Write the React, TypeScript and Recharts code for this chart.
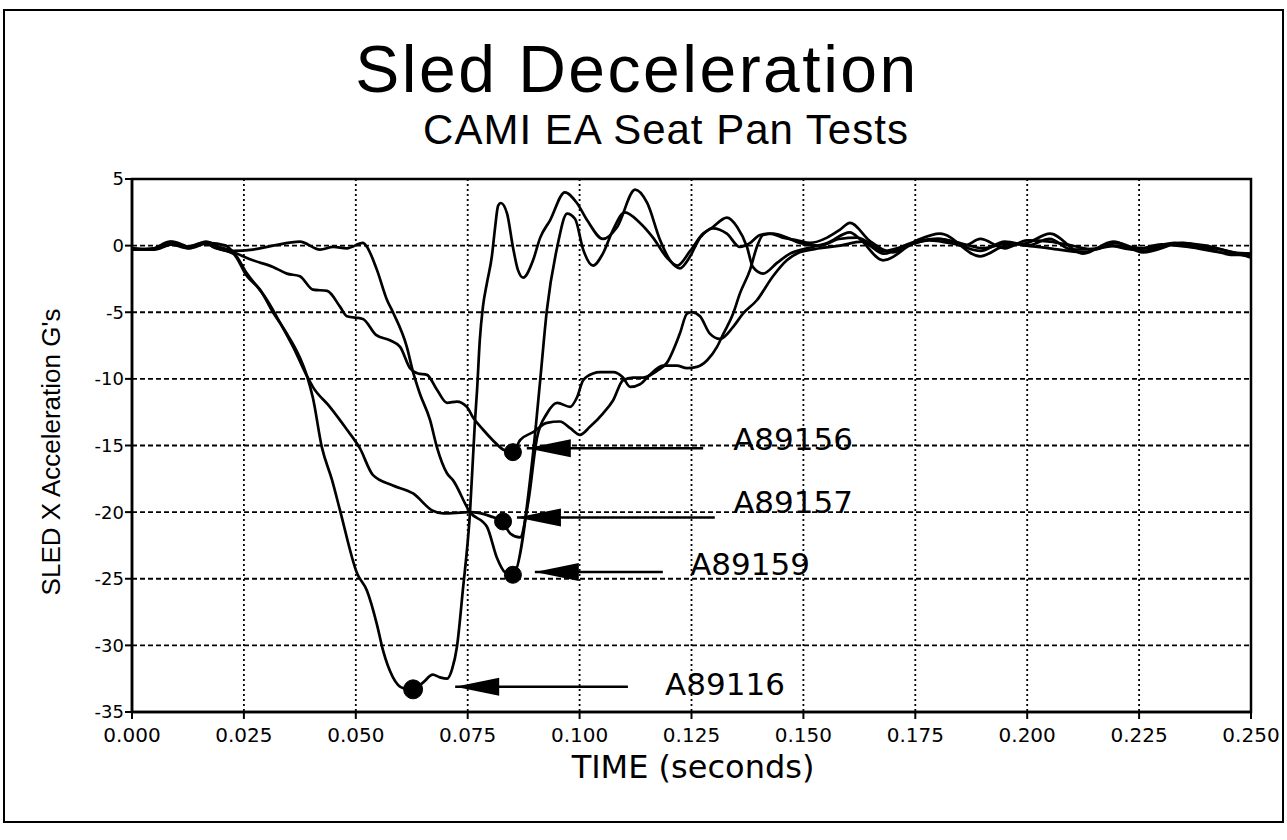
import React from 'react';
import {
  LineChart,
  Line,
  XAxis,
  YAxis,
  CartesianGrid,
  ReferenceArea,
  ReferenceDot,
  ReferenceLine,
} from 'recharts';

type P = [number, number];

// time (s), sled X acceleration (G)
const A89116: P[] = [
  [0, -0.2], [0.004, -0.3], [0.0085, 0.3], [0.012, -0.1], [0.0159, 0.2], [0.019, -0.2],
  [0.0226, -0.6], [0.0257, -2.3], [0.0286, -3.3], [0.0315, -5.0], [0.0346, -6.6], [0.0375, -8.4],
  [0.0391, -9.8], [0.0404, -11.4], [0.0424, -15.1], [0.0447, -17.6], [0.0465, -19.9], [0.0503, -24.6],
  [0.0525, -25.9], [0.0547, -28.4], [0.0561, -30.4], [0.0583, -32.4], [0.0605, -33.2], [0.0628, -33.3],
  [0.065, -32.8], [0.0672, -32.2], [0.0688, -32.4], [0.0704, -32.5], [0.0715, -31.8], [0.0726, -30.1],
  [0.0739, -25.9], [0.0755, -20.1], [0.0766, -13.3], [0.0771, -10.8], [0.0777, -7.1], [0.0784, -4.6],
  [0.0793, -2.8], [0.0804, -0.8], [0.0811, 1.3], [0.0818, 3.0], [0.0824, 3.2], [0.0838, 2.4],
  [0.0851, -0.1], [0.0862, -1.8], [0.0874, -2.4], [0.0896, -1.1], [0.0912, 0.6], [0.0934, 1.9],
  [0.0967, 4.0], [0.0994, 3.2], [0.1017, 1.9], [0.1052, 0.5], [0.1084, 1.4], [0.1124, 4.2],
  [0.1151, 3.2], [0.118, 0.4], [0.1202, -1.1], [0.1224, -1.7], [0.1247, -0.8], [0.1269, 0.6],
  [0.1298, 1.4], [0.1329, 2.1], [0.1352, 1.4], [0.1374, -0.1], [0.1387, -1.6], [0.141, -2.1],
  [0.1441, -1.3], [0.147, -0.6], [0.1508, -0.2], [0.1553, 0.2], [0.1604, 1.0], [0.1626, 0.5],
  [0.1678, -1.1], [0.1754, 0.4], [0.1805, 0.9], [0.1895, -0.8], [0.195, 0.0], [0.2, 0.2],
  [0.2051, 0.9], [0.2125, -0.6], [0.2192, 0.3], [0.2259, -0.5], [0.2348, 0.2], [0.24, -0.2],
  [0.246, -0.7], [0.25, -0.6],
];

const A89157: P[] = [
  [0, -0.3], [0.005, -0.2], [0.009, 0.3], [0.013, -0.1], [0.0165, 0.3], [0.0195, -0.1],
  [0.0226, -0.5], [0.0257, -2.1], [0.0302, -4.1], [0.0331, -5.8], [0.036, -7.6], [0.0391, -9.8],
  [0.0404, -10.6], [0.0442, -12.1], [0.048, -13.8], [0.0509, -15.2], [0.0538, -17.2], [0.0583, -18.0],
  [0.0628, -18.6], [0.0672, -19.9], [0.0695, -20.1], [0.0755, -20.0], [0.08, -20.3], [0.0829, -20.8],
  [0.0845, -21.6], [0.0867, -21.9], [0.0885, -19.3], [0.0905, -14.4], [0.0927, -12.6], [0.095, -11.8],
  [0.0979, -12.1], [0.0994, -11.4], [0.1008, -10.1], [0.103, -9.6], [0.1046, -9.5], [0.1075, -9.5],
  [0.1097, -9.9], [0.1113, -10.6], [0.1135, -10.4], [0.1157, -9.7], [0.1186, -9.0], [0.1217, -9.0],
  [0.124, -9.2], [0.1262, -9.1], [0.1285, -8.6], [0.1307, -7.6], [0.132, -6.7], [0.1343, -5.1],
  [0.1358, -3.6], [0.1381, -1.8], [0.1396, -0.1], [0.141, 0.8], [0.1432, 0.9], [0.1463, 0.6],
  [0.1492, 0.2], [0.1537, 0.0], [0.158, 0.5], [0.162, 0.6], [0.168, -0.4], [0.173, 0.0],
  [0.178, 0.4], [0.184, 0.1], [0.1895, -0.4], [0.195, 0.3], [0.2, 0.0], [0.205, -0.2],
  [0.2125, -0.5], [0.218, 0.0], [0.224, -0.3], [0.23, 0.1], [0.236, -0.1], [0.243, -0.5],
  [0.25, -0.8],
];

const A89159: P[] = [
  [0, -0.2], [0.005, -0.3], [0.009, 0.1], [0.013, -0.2], [0.017, 0.2], [0.021, 0.0],
  [0.0226, -0.4], [0.027, -0.3], [0.0315, 0.0], [0.0375, 0.3], [0.042, -0.3], [0.045, -0.1],
  [0.048, -0.2], [0.0516, 0.2], [0.0525, -0.1], [0.0547, -1.8], [0.057, -4.1], [0.0583, -5.0],
  [0.0614, -7.6], [0.0628, -9.5], [0.0643, -11.1], [0.0666, -13.1], [0.0681, -15.1], [0.0704, -17.1],
  [0.0717, -17.6], [0.0755, -20.0], [0.0793, -21.1], [0.0815, -23.4], [0.0833, -24.5], [0.0851, -24.7],
  [0.0896, -15.6], [0.0912, -10.1], [0.0927, -4.8], [0.095, -0.1], [0.0972, 2.4], [0.099, 2.0],
  [0.1008, -0.3], [0.103, -1.5], [0.1052, -0.6], [0.1075, 1.2], [0.1101, 2.5], [0.1135, 1.7],
  [0.1164, 0.6], [0.1195, -0.9], [0.1218, -1.5], [0.1247, -0.4], [0.1276, 0.9], [0.1298, 1.3],
  [0.1329, 0.9], [0.1358, -0.1], [0.1381, 0.2], [0.1403, 0.8], [0.1425, 0.9], [0.1454, 0.6],
  [0.1486, 0.4], [0.1515, 0.2], [0.1553, 0.6], [0.1582, 1.2], [0.1604, 1.7], [0.165, 0.3],
  [0.17, -0.5], [0.175, 0.2], [0.1805, 0.5], [0.186, 0.0], [0.1895, 0.5], [0.195, -0.2],
  [0.2, 0.4], [0.2051, 0.3], [0.21, 0.0], [0.215, -0.3], [0.22, 0.2], [0.226, -0.4],
  [0.232, 0.1], [0.24, -0.1], [0.246, -0.5], [0.25, -0.9],
];

const A89156: P[] = [
  [0, -0.3], [0.005, -0.2], [0.0085, 0.1], [0.0125, -0.2], [0.0165, 0.2], [0.0181, -0.1],
  [0.0226, -0.5], [0.027, -1.1], [0.0315, -1.6], [0.0346, -2.1], [0.0375, -2.3], [0.0404, -3.3],
  [0.0436, -3.4], [0.0465, -4.6], [0.048, -5.3], [0.0516, -5.5], [0.0545, -6.7], [0.0576, -7.1],
  [0.0599, -7.6], [0.0621, -9.2], [0.0639, -9.6], [0.0659, -9.7], [0.0681, -10.8], [0.0704, -11.8],
  [0.0726, -11.7], [0.0748, -12.1], [0.0762, -12.9], [0.0784, -13.8], [0.0806, -14.6], [0.0829, -15.3],
  [0.0851, -15.5], [0.0867, -14.6], [0.0896, -14.0], [0.0927, -13.3], [0.0956, -13.2], [0.0979, -13.7],
  [0.1001, -14.2], [0.1023, -13.6], [0.1052, -12.6], [0.1075, -11.6], [0.1097, -10.1], [0.1119, -9.9],
  [0.1142, -9.9], [0.1173, -9.4], [0.1195, -8.8], [0.1224, -6.6], [0.124, -5.1], [0.1251, -5.0],
  [0.1269, -5.3], [0.1291, -6.6], [0.1314, -7.0], [0.1343, -6.1], [0.1365, -5.1], [0.1396, -4.1],
  [0.1432, -2.3], [0.1463, -1.1], [0.1492, -0.5], [0.1537, -0.2], [0.1582, 0.0], [0.163, 0.3],
  [0.168, -0.6], [0.174, 0.2], [0.18, 0.5], [0.185, 0.2], [0.19, -0.2], [0.196, 0.2],
  [0.2, 0.0], [0.205, 0.5], [0.21, -0.3], [0.216, -0.2], [0.22, 0.0], [0.226, -0.2],
  [0.233, 0.2], [0.24, 0.0], [0.246, -0.5], [0.25, -0.6],
];

const SERIES: P[][] = [A89156, A89157, A89159, A89116];

const TIME_TICKS = [0, 0.025, 0.05, 0.075, 0.1, 0.125, 0.15, 0.175, 0.2, 0.225, 0.25];
const G_TICKS = [5, 0, -5, -10, -15, -20, -25, -30, -35];

// annotations: test name, peak marker, arrow, label
const TEST_NAMES = ['A89156', 'A89157', 'A89159', 'A89116'];
const PEAK_T = [0.0851, 0.0829, 0.0851, 0.0628];
const PEAK_G = [-15.5, -20.7, -24.7, -33.3];
const ARROW_TIP_T = [0.0882, 0.086, 0.09, 0.0722];
const ARROW_G = [-15.2, -20.4, -24.5, -33.1];
const ARROW_END_T = [0.1276, 0.1302, 0.1186, 0.1108];
const LABEL_T = [0.1343, 0.1343, 0.1247, 0.1191];
const LABEL_G = [-15.34, -20.07, -24.7, -33.7];

const toRows = (pts: P[]) => pts.map(([t, g]) => ({ t, g }));

const sans = 'Liberation Sans, Arial, sans-serif';
const wide = 'DejaVu Sans, sans-serif';

export default function App() {
  return (
    <div style={{ position: 'absolute', left: 0, top: 0, width: 1287, height: 840, background: '#fff' }}>
      <LineChart width={1287} height={840} margin={{ top: 179, right: 36, bottom: 88, left: 72 }}>
        <CartesianGrid horizontal vertical={false} stroke="#000" strokeWidth={1.8} strokeDasharray="5 3" />
        <CartesianGrid horizontal={false} vertical stroke="#000" strokeWidth={1.8} strokeDasharray="2 3" />
        <XAxis
          type="number"
          dataKey="t"
          domain={[0, 0.25]}
          ticks={TIME_TICKS}
          interval={0}
          allowDataOverflow
          tickFormatter={(v: number) => v.toFixed(3)}
          height={40}
          tickSize={7}
          tickMargin={9}
          axisLine={{ stroke: '#000', strokeWidth: 2.5 }}
          tickLine={{ stroke: '#000', strokeWidth: 2 }}
          tick={{ fill: '#000', fontSize: 20, fontFamily: wide }}
        />
        <YAxis
          type="number"
          domain={[-35, 5]}
          ticks={G_TICKS}
          interval={0}
          allowDataOverflow
          width={60}
          tickSize={7}
          tickMargin={1}
          axisLine={{ stroke: '#000', strokeWidth: 2.5 }}
          tickLine={{ stroke: '#000', strokeWidth: 2 }}
          tick={{ fill: '#000', fontSize: 18, fontFamily: wide }}
        />
        <ReferenceArea x1={0} x2={0.25} y1={-35} y2={5} fill="none" stroke="#000" strokeWidth={2.5} />
        {SERIES.map((s, i) => (
          <Line
            key={TEST_NAMES[i]}
            data={toRows(s)}
            dataKey="g"
            type="monotone"
            stroke="#000"
            strokeWidth={2.7}
            dot={false}
            activeDot={false}
            isAnimationActive={false}
          />
        ))}
        {TEST_NAMES.map((name, i) => (
          <ReferenceLine
            key={'shaft' + name}
            segment={[
              { x: ARROW_TIP_T[i], y: ARROW_G[i] },
              { x: ARROW_END_T[i], y: ARROW_G[i] },
            ]}
            stroke="#000"
            strokeWidth={2.5}
          />
        ))}
        {TEST_NAMES.map((name, i) => (
          <ReferenceDot
            key={'head' + name}
            x={ARROW_TIP_T[i]}
            y={ARROW_G[i]}
            r={1}
            shape={(p: any) => (
              <polygon
                points={`${p.cx},${p.cy} ${p.cx + 44},${p.cy - 9} ${p.cx + 44},${p.cy + 9}`}
                fill="#000"
              />
            )}
          />
        ))}
        {TEST_NAMES.map((name, i) => (
          <ReferenceDot
            key={'peak' + name}
            x={PEAK_T[i]}
            y={PEAK_G[i]}
            r={i === 3 ? 9.5 : 8.5}
            fill="#000"
            stroke="#000"
          />
        ))}
        {TEST_NAMES.map((name, i) => (
          <ReferenceDot
            key={'label' + name}
            x={LABEL_T[i]}
            y={LABEL_G[i]}
            r={1}
            shape={(p: any) => (
              <text x={p.cx} y={p.cy} fontSize={31} fontFamily={wide} fill="#000" textAnchor="start">
                {name}
              </text>
            )}
          />
        ))}
      </LineChart>
      <svg
        width={1287}
        height={840}
        style={{ position: 'absolute', left: 0, top: 0, pointerEvents: 'none' }}
      >
        <rect x={4} y={10} width={1279} height={812} fill="none" stroke="#000" strokeWidth={2} />
        <text x={637} y={92} textAnchor="middle" fontSize={66} letterSpacing={2.5} fontFamily={sans} fill="#000">
          Sled Deceleration
        </text>
        <text x={666} y={144} textAnchor="middle" fontSize={42} letterSpacing={1} fontFamily={sans} fill="#000">
          CAMI EA Seat Pan Tests
        </text>
        <text
          transform="translate(60,452) rotate(-90)"
          textAnchor="middle"
          fontSize={26}
          fontFamily={sans}
          fill="#000"
        >
          SLED X Acceleration G's
        </text>
        <text x={693} y={778} textAnchor="middle" fontSize={32} fontFamily={wide} fill="#000">
          TIME (seconds)
        </text>
      </svg>
    </div>
  );
}
